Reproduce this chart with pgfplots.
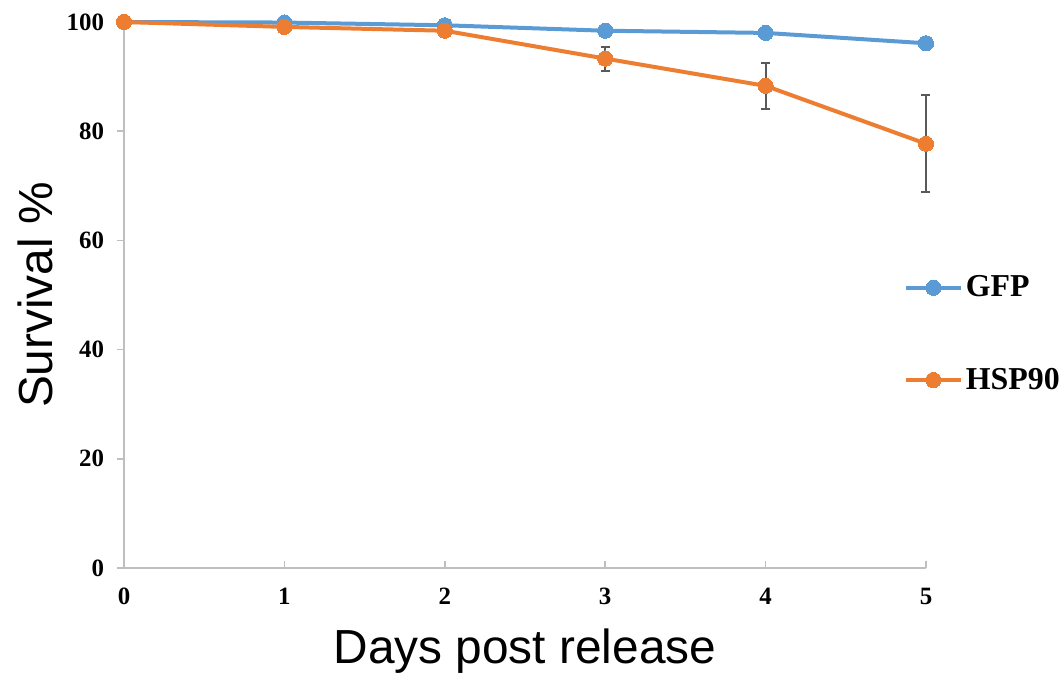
\documentclass[border=0pt]{standalone}
\usepackage{pgfplots}
\pgfplotsset{compat=1.18}
\usepackage{fontspec}
\setmainfont{Liberation Serif}
\newfontfamily\arial{Liberation Sans}
\definecolor{gfpblue}{HTML}{5B9BD5}
\definecolor{hsporange}{HTML}{ED7D31}
\definecolor{axgray}{HTML}{BFBFBF}
\definecolor{errgray}{HTML}{595959}
\begin{document}
\begin{tikzpicture}
\path[use as bounding box] (-62bp,-53.5bp) rectangle (469.5bp,284bp);
\begin{axis}[
  at={(0,0)}, anchor=south west,
  scale only axis=true,
  width=401bp, height=273bp,
  xmin=0, xmax=5, ymin=0, ymax=100,
  xtick={0,1,2,3,4,5},
  ytick={0,20,40,60,80,100},
  axis lines*=left,
  axis line style={color=axgray, line width=0.75bp},
  tick align=inside,
  major tick length=3.5bp,
  every tick/.style={color=axgray, line width=0.75bp},
  ytick style={xshift=-3.5bp},
  clip=false,
  /pgf/number format/assume math mode=true,
  ticklabel style={font=\bfseries\fontsize{12.5}{14}\selectfont},
  xticklabel style={yshift=-6.5bp},
  yticklabel style={xshift=-6.5bp},
  xlabel={Days post release},
  ylabel={Survival \%},
  label style={font=\arial\fontsize{24}{28}\selectfont},
  xlabel style={at={(axis description cs:0.5,-0.152)}, anchor=center},
  ylabel style={at={(axis description cs:-0.111,0.5)}, anchor=center},
  legend style={draw=none, fill=none, at={(axis description cs:0.972,0.4286)}, anchor=west,
    inner sep=0pt, row sep=31bp, font=\bfseries\fontsize{16}{19}\selectfont,
    nodes={inner sep=1.5bp}},
  legend cell align=left,
  legend image code/.code={
    \draw[#1, mark=none] (0bp,0bp) -- (27.5bp,0bp);
    \draw[#1, only marks] plot coordinates {(13.75bp,0bp)};
  },
]
% error bars (drawn first, behind the line)
\addplot[draw=none, mark=none, forget plot,
  error bars/.cd, y dir=both, y explicit,
  error bar style={color=errgray, line width=1bp},
  error mark options={rotate=90, mark size=2.25bp, color=errgray, line width=1bp}]
  coordinates {(3,93.3) +- (0,2.2) (4,88.3) +- (0,4.2) (5,77.7) +- (0,8.9)};
\addplot[color=gfpblue, line width=2bp, mark=*, mark size=3.8bp,
  mark options={fill=gfpblue, draw=gfpblue, line width=0bp}]
  coordinates {(0,100) (1,99.9) (2,99.4) (3,98.4) (4,98.0) (5,96.1)};
\addlegendentry{GFP}
\addplot[color=hsporange, line width=2bp, mark=*, mark size=3.8bp,
  mark options={fill=hsporange, draw=hsporange, line width=0bp}]
  coordinates {(0,100) (1,99.1) (2,98.4) (3,93.3) (4,88.3) (5,77.7)};
\addlegendentry{HSP90}
\end{axis}
\end{tikzpicture}
\end{document}
